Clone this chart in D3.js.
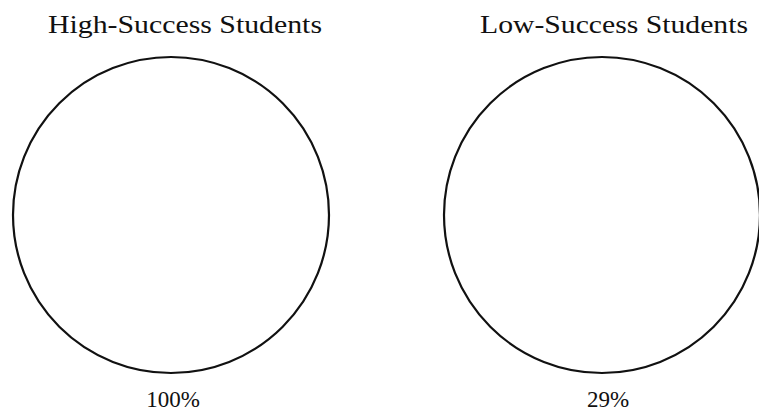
<!DOCTYPE html>
<html>
<head>
<meta charset="utf-8">
<script src="https://cdn.jsdelivr.net/npm/d3@7"></script>
<style>
  html, body { margin: 0; padding: 0; background: #fff; }
  svg { display: block; }
  .title, .pct { font-family: "Liberation Serif", "DejaVu Serif", serif; fill: #111; }
</style>
</head>
<body>
<div id="chart"></div>
<script>
// ---------- DATA ----------
const groups = ["High-Success Students", "Low-Success Students"];
const percents = [100, 29];
const pctLabels = ["100%", "29%"];

const width = 759;
const height = 413;

const svg = d3.select("#chart")
  .append("svg")
  .attr("width", width)
  .attr("height", height);

// circle centres for each group
const xScale = d3.scalePoint()
  .domain(groups)
  .range([171, 602]);

const cy = 215;
const r = 158;

const g = svg.selectAll("g.pie")
  .data(groups)
  .enter()
  .append("g")
  .classed("pie", true)
  .attr("transform", d => `translate(${xScale(d)},${cy})`);

// outline only - the scanned original shows no fill
g.append("circle")
  .attr("r", r)
  .attr("fill", "none")
  .attr("stroke", "#111")
  .attr("stroke-width", 2.2);

// titles sit a bit right of the circle centre
const titleX = [185, 614];
svg.selectAll("text.title")
  .data(groups)
  .enter()
  .append("text")
  .classed("title", true)
  .attr("x", (d, i) => titleX[i])
  .attr("y", 33)
  .attr("text-anchor", "middle")
  .attr("font-size", 25)
  .attr("textLength", (d, i) => i === 0 ? 274 : 268)
  .attr("lengthAdjust", "spacingAndGlyphs")
  .text(d => d);

const pctX = [173, 608];
svg.selectAll("text.pct")
  .data(percents)
  .enter()
  .append("text")
  .classed("pct", true)
  .attr("x", (d, i) => pctX[i])
  .attr("y", 407)
  .attr("text-anchor", "middle")
  .attr("font-size", 23)
  .text((d, i) => pctLabels[i]);
</script>
</body>
</html>
